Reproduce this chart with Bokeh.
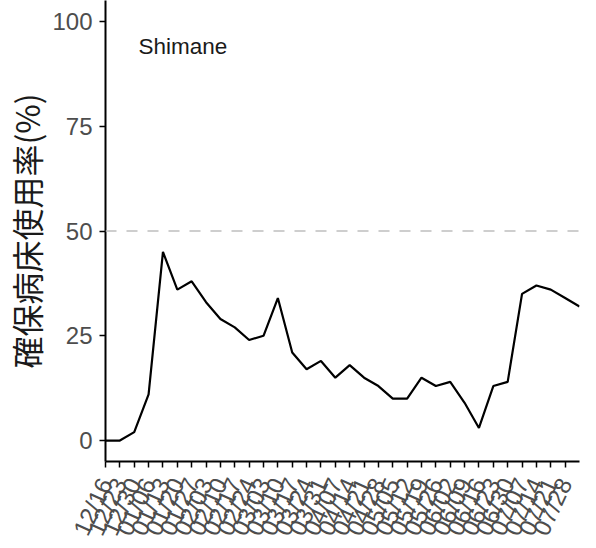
import math
from bokeh.plotting import figure
from bokeh.models import FixedTicker, Span, Label, Range1d, ColumnDataSource
from bokeh.embed import file_html
from bokeh.resources import INLINE

# ---- data ----
dates = ["12/16", "12/23", "12/30", "01/06", "01/13", "01/20", "01/27", "02/03",
         "02/10", "02/17", "02/24", "03/03", "03/10", "03/17", "03/24", "03/31",
         "04/07", "04/14", "04/21", "04/28", "05/05", "05/12", "05/19", "05/26",
         "06/02", "06/09", "06/16", "06/23", "06/30", "07/07", "07/14", "07/21",
         "07/28", "08/04"]
occupancy = [0, 0, 2, 11, 45, 36, 38, 33, 29, 27, 24, 25, 34, 21, 17, 19, 15, 18,
             15, 13, 10, 10, 15, 13, 14, 9, 3, 13, 14, 35, 37, 36, 34, 32]
tick_labels = dates[:33]
y_ticks = [0, 25, 50, 75, 100]
threshold = 50
region = "Shimane"
y_title = "確保病床使用率(%)"

idx = list(range(len(dates)))
src = ColumnDataSource(data=dict(x=idx, y=occupancy, date=dates))

p = figure(width=588, height=548, output_backend="svg", toolbar_location=None,
           x_range=Range1d(0, len(dates) - 1), y_range=Range1d(-5, 105),
           min_border_left=96, min_border_right=9, min_border_top=0,
           min_border_bottom=86)

p.xgrid.visible = False
p.ygrid.visible = False
p.outline_line_color = None
p.background_fill_color = "white"

p.add_layout(Span(location=threshold, dimension="width", line_color="#BEBEBE",
                  line_width=1.5, line_dash="11 10"))

p.line("x", "y", source=src, line_color="black", line_width=2.2)

p.add_layout(Label(x=2.3, y=94, text=region, text_font_size="22.5px",
                   text_font="Liberation Sans", text_baseline="middle",
                   text_color="#1a1a1a"))

# x axis
p.xaxis.ticker = FixedTicker(ticks=list(range(len(tick_labels))))
p.xaxis.major_label_overrides = {i: t for i, t in enumerate(tick_labels)}
p.xaxis.major_label_orientation = math.radians(65)
p.xaxis.minor_tick_line_color = None
# y axis
p.yaxis.ticker = FixedTicker(ticks=y_ticks)
p.yaxis.minor_tick_line_color = None
p.yaxis.axis_label = y_title
p.yaxis.axis_label_text_font = "Noto Sans CJK JP"
p.yaxis.axis_label_text_font_size = "32px"
p.yaxis.axis_label_text_font_style = "normal"
p.yaxis.axis_label_text_color = "#1a1a1a"
p.yaxis.axis_label_standoff = 0

for ax in (p.xaxis, p.yaxis):
    ax.axis_line_color = "black"
    ax.axis_line_width = 2
    ax.major_tick_line_color = "black"
    ax.major_tick_line_width = 1.5
    ax.major_tick_out = 6
    ax.major_tick_in = 0
    ax.major_label_text_font = "Liberation Sans"
    ax.major_label_text_color = "#4D4D4D"
    ax.major_label_text_font_size = "24px"
p.yaxis.major_label_standoff = 7
p.xaxis.major_label_standoff = 12

open("out.html", "w").write(file_html(p, INLINE))
